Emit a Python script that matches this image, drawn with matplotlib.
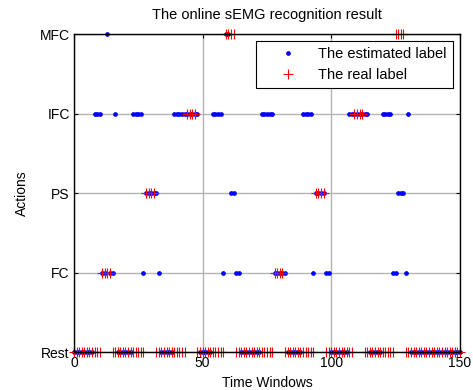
import numpy as np
import matplotlib
matplotlib.use("Agg")
import matplotlib.pyplot as plt

plt.rcParams['font.family'] = ['Liberation Sans', 'DejaVu Sans']

# class codes: 0 Rest, 1 FC, 2 PS, 3 IFC, 4 MFC
action_names = ['Rest', 'FC', 'PS', 'IFC', 'MFC']
time_windows = np.arange(0, 151)

# real label, as (start, end, class) runs
real_runs = [(0, 10, 0), (11, 14, 1), (15, 27, 0), (28, 31, 2), (32, 43, 0),
             (44, 47, 3), (48, 58, 0), (59, 62, 4), (63, 77, 0), (78, 81, 1),
             (82, 93, 0), (94, 97, 2), (98, 108, 0), (109, 112, 3), (113, 124, 0),
             (125, 128, 4), (129, 150, 0)]

# estimated label, as (start, end, class) runs
est_runs = [(0, 7, 0), (8, 10, 3), (11, 12, 1), (13, 13, 4), (14, 15, 1),
            (16, 16, 3), (17, 22, 0), (23, 26, 3), (27, 27, 1), (28, 32, 2),
            (33, 33, 1), (34, 38, 0), (39, 48, 3), (49, 53, 0), (54, 57, 3),
            (58, 58, 1), (59, 60, 4), (61, 62, 2), (63, 64, 1), (65, 72, 0),
            (73, 77, 3), (78, 82, 1), (83, 88, 0), (89, 92, 3), (93, 93, 1),
            (94, 97, 2), (98, 99, 1), (100, 106, 0), (107, 114, 3), (115, 119, 0),
            (120, 123, 3), (124, 125, 1), (126, 128, 2), (129, 129, 1),
            (130, 130, 3), (131, 150, 0)]


def expand(runs):
    lab = np.zeros(len(time_windows))
    for s, e, c in runs:
        lab[(time_windows >= s) & (time_windows <= e)] = c
    return lab


real_label = expand(real_runs)
est_label = expand(est_runs)

fig = plt.figure(figsize=(4.73, 3.90), dpi=100)
ax = fig.add_axes([0.1564, 0.0974, 0.816, 0.8154])

ax.plot(time_windows, est_label, 'o', color='#0000ff', markersize=3.4,
        markeredgewidth=0, linestyle='none', clip_on=False, label='The estimated label')
ax.plot(time_windows, real_label, '+', color='#ff0000', markersize=6.5,
        markeredgewidth=0.8, linestyle='none', clip_on=False, label='The real label')

ax.set_xlim(0, 150)
ax.set_ylim(0, 4)
ax.set_xticks([0, 50, 100, 150])
ax.set_yticks(range(5))
ax.set_yticklabels(action_names)
ax.tick_params(direction='in', length=3, width=0.8, top=True, right=True,
               labelsize=10, pad=3)
ax.grid(True, color='#b4b4b4', linewidth=1.0)
ax.set_axisbelow(True)
for sp in ax.spines.values():
    sp.set_linewidth(1.0)

ax.set_title('The online sEMG recognition result', fontsize=10.5, pad=11)
ax.set_xlabel('Time Windows', fontsize=10, labelpad=4)
ax.set_ylabel('Actions', fontsize=10, labelpad=8)

leg = ax.legend(loc='upper right', fontsize=10.5, fancybox=False, edgecolor='black',
                framealpha=1, borderaxespad=0.45, handlelength=3.4,
                handletextpad=0.4, borderpad=0.45, labelspacing=0.45)
leg.get_frame().set_linewidth(0.8)

fig.savefig('out.png', dpi=100)
